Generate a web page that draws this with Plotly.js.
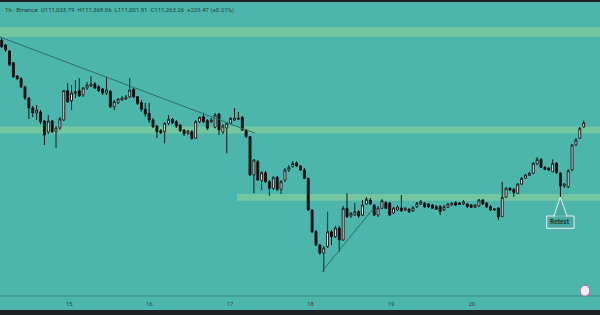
<!DOCTYPE html>
<html>
<head>
<meta charset="utf-8">
<script src="https://cdn.plot.ly/plotly-3.0.1.min.js"></script>
<style>html,body{margin:0;padding:0;background:#1e2124;}#chart{width:600px;height:315px;}</style>
</head>
<body>
<div id="chart"></div>
<script>
// Candle OHLC (BTC/USDT 1h, Binance)
const openP = [115605,115343,115028,114413,113715,113573,113138,112560,112035,111773,
111825,111353,110775,111353,110791,110985,111405,112943,112418,112807,
112943,112718,113085,113190,113295,113153,113033,112823,112891,112103,
112313,112455,112508,112613,113017,112628,112313,111967,111757,111405,
111090,110843,110791,111232,111442,111316,111143,110880,110707,110791,
110444,111316,111578,111368,111316,111022,111720,110775,110985,111232,
111405,111442,111547,110880,110528,108518,109216,108218,108638,108166,
107819,108397,107767,108255,108780,108953,109148,108990,108780,108344,
106680,105541,104843,104423,104753,105541,105278,105735,105105,106769,
106365,106418,106591,106418,106995,107205,106943,106418,106769,107063,
107048,106523,106680,106785,106680,106717,106643,106853,106995,107032,
106995,106943,106853,106853,106680,106822,106943,107063,107048,106995,
106995,106943,106822,106890,107205,107032,106853,106680,106769,106328,
107347,107819,107767,107557,108045,108344,108502,108607,109095,109342,
108922,108869,108691,109132,108607,107940,107903,108780,110093,110444,
111033.79];
const highP = [115710,115395,115080,114450,113768,113663,113190,112613,112140,112193,
111930,111405,111668,111405,111090,111563,112980,113348,113243,113505,
113610,113138,113400,113715,113400,113243,113085,113678,112980,112455,
112560,112665,112718,113610,113085,112665,112455,112298,112298,111510,
111143,110933,111300,111668,111510,111405,111195,110933,110880,110880,
111405,111578,111788,111458,111510,111773,111773,111195,111300,111563,
112035,111825,111615,110933,110565,109358,109305,108728,108728,108255,
108465,108465,108255,108885,109043,109253,109226,109043,108885,108360,
106733,105630,104895,104790,106591,105630,105840,105840,106890,107557,
106575,107048,106680,107205,107363,107310,106995,106890,107258,107153,
107100,106838,106943,107468,106838,106785,106890,107100,107205,107100,
107048,106995,106943,106943,106943,107048,107100,107153,107100,107205,
107048,106995,106995,107258,107258,107100,106943,106785,106838,108166,
107888,107888,107835,108098,108413,108570,108675,109200,109463,109410,
108990,108938,109342,109200,108675,108098,108833,110145,110460,111038,
111368.06];
const lowP = [115185,114975,114240,113610,113505,113085,112455,111458,111563,111405,
111195,110093,110670,110723,109935,110880,111353,112298,111930,112560,
112613,112613,112980,113138,113033,112875,112718,112718,112035,111930,
112245,112403,112455,112560,112560,112193,111841,111578,111248,110985,
110460,110670,110182,111143,111195,110985,110775,110565,110618,110355,
110408,111248,111248,110880,111248,110969,110618,110670,109657,111195,
111353,111405,110828,110460,108465,107557,108203,107730,108098,107415,
107730,107678,107520,108150,108675,108911,108938,108728,108308,106628,
105473,104790,104318,103441,104685,104843,105210,104491,105053,106260,
106260,106365,106260,106365,106943,106943,106365,106313,106733,106733,
106365,106470,106628,106575,106628,106523,106575,106785,106943,106785,
106785,106733,106680,106418,106628,106785,106890,106890,106943,106943,
106785,106785,106785,106838,106943,106785,106628,106628,106155,106313,
107310,107678,107363,107520,107993,108308,108465,108570,109043,108885,
108780,108728,108675,108570,107347,107835,107819,108728,110040,110408,
111001.91];
const closeP = [115253,115080,114293,113678,113573,113153,112560,112035,111773,111930,
111300,110618,111353,110791,110985,111458,112943,112366,112823,112891,
112665,113085,113243,113295,113085,112943,112823,112980,112103,112366,
112508,112560,112613,112980,112628,112282,111967,111720,111405,111053,
110791,110738,111232,111442,111263,111090,110843,110670,110828,110444,
111316,111547,111316,110969,111405,111668,110880,111090,111232,111494,
111494,111510,110880,110528,108518,109305,108255,108638,108166,107819,
108376,107767,108166,108780,108922,109121,108990,108780,108344,106680,
105541,104843,104423,104685,105541,105278,105735,105105,106769,106328,
106507,106591,106365,106943,107242,106995,106418,106785,107168,106769,
106418,106785,106838,106643,106769,106591,106801,107032,107116,106853,
106853,106769,106717,106591,106853,106995,107032,106943,106979,107116,
106853,106822,106943,107205,106995,106853,106680,106733,106328,107347,
107819,107730,107588,108045,108344,108518,108607,109132,109342,108922,
108817,108780,109132,108638,107940,108045,108743,110093,110355,110969,
111263.26];

// Day ticks (candle-index positions of each day start) and labels
const dayTickPos = [17.35, 38.05, 58.85, 79.55, 100.35, 121.15];
const dayTickText = ["15", "16", "17", "18", "19", "20"];

// Drawn zones (price ranges) and trendlines
const zoneTop = [115760, 116290];
const zoneMid = [110700, 111060];
const zoneLow = [107170, 107520];
const zoneLowStart = 60.6;
const trendDownX = [-0.44, 65.3];
const trendDownY = [115760, 110710];
const trendUpX = [82.5, 95.5];
const trendUpY = [103441, 106690];
const retestIndex = 144;
const retestLabel = "Retest";
const headerText = "· 1h · Binance  O111,033.79  H111,368.06  L111,001.91  C111,263.26  +229.47 (+0.21%)";

const idx = openP.map((_, i) => i);
const xRange = [-0.44, 154.2];
const yRange = [101430, 117600];

const zoneColor = '#74c6a0';
const bubbleFill = '#49aaa1';
const bubbleLine = '#e6f2f0';
const shapes = [
  {type:'rect', xref:'paper', yref:'y', x0:0, x1:1, y0:zoneTop[0], y1:zoneTop[1], fillcolor:zoneColor, line:{width:0}, layer:'below'},
  {type:'rect', xref:'paper', yref:'y', x0:0, x1:1, y0:zoneMid[0], y1:zoneMid[1], fillcolor:zoneColor, line:{width:0}, layer:'below'},
  {type:'rect', xref:'x', yref:'y', x0:zoneLowStart, x1:xRange[1], y0:zoneLow[0], y1:zoneLow[1], fillcolor:zoneColor, line:{width:0}, layer:'below'},
  {type:'line', xref:'x', yref:'y', x0:trendDownX[0], x1:trendDownX[1], y0:trendDownY[0], y1:trendDownY[1], line:{color:'#2d6f68', width:1}},
  {type:'line', xref:'x', yref:'y', x0:trendUpX[0], x1:trendUpX[1], y0:trendUpY[0], y1:trendUpY[1], line:{color:'#2d6f68', width:1}},
  // bottom axis separator
  {type:'line', xref:'paper', yref:'paper', x0:0, x1:1, y0:0.0455, y1:0.0455, line:{color:'#3a8c84', width:1}},
  // small logo circle bottom-right
  {type:'circle', xref:'paper', yref:'paper', x0:0.967, x1:0.983, y0:0.045, y1:0.08, fillcolor:'#f4eef6', line:{color:'#c561b5', width:1}},
  // speech-bubble box and pointer for the "Retest" callout
  {type:'rect', xref:'paper', yref:'paper', x0:0.9112, x1:0.9567, y0:0.2653, y1:0.3052, fillcolor:bubbleFill, line:{color:bubbleLine, width:1}},
  {type:'path', xref:'paper', yref:'paper', path:'M0.9233,0.3052 L0.9338,0.3659 L0.9450,0.3052 Z', fillcolor:bubbleFill, line:{color:bubbleLine, width:1}},
  {type:'line', xref:'paper', yref:'paper', x0:0.9250, x1:0.9433, y0:0.3052, y1:0.3052, line:{color:bubbleFill, width:1.5}}
];

const data = [{
  type:'candlestick',
  x: idx, open: openP, high: highP, low: lowP, close: closeP,
  increasing:{line:{color:'#1b1b1b', width:1}, fillcolor:'#ffffff'},
  decreasing:{line:{color:'#111111', width:1}, fillcolor:'#111111'},
  whiskerwidth:0,
  hoverinfo:'skip',
  showlegend:false
}];

const layout = {
  width:600, height:315,
  margin:{l:0, r:0, t:2, b:5, pad:0},
  paper_bgcolor:'#1e2124',
  plot_bgcolor:'#4db6ac',
  showlegend:false,
  xaxis:{
    range:xRange, tickvals:dayTickPos, ticktext:dayTickText,
    ticklabelposition:'inside', ticks:'', showgrid:false, zeroline:false, showline:false,
    tickfont:{size:6, color:'#1d4844', family:'Roboto'},
    rangeslider:{visible:false}, fixedrange:true
  },
  yaxis:{range:yRange, visible:false, showgrid:false, zeroline:false, fixedrange:true},
  shapes: shapes,
  annotations:[
    {xref:'paper', yref:'paper', x:0, y:0.973, xanchor:'left', yanchor:'middle', showarrow:false,
     text:headerText, font:{size:6, color:'#1e3f3b', family:'Roboto'}},
    {xref:'paper', yref:'paper', x:0.9340, y:0.2853, xanchor:'center', yanchor:'middle', showarrow:false,
     text:retestLabel, font:{size:6.5, color:'#14322f', family:'Roboto', weight:600}}
  ]
};

Plotly.newPlot('chart', data, layout, {staticPlot:true, displayModeBar:false});
</script>
</body>
</html>
